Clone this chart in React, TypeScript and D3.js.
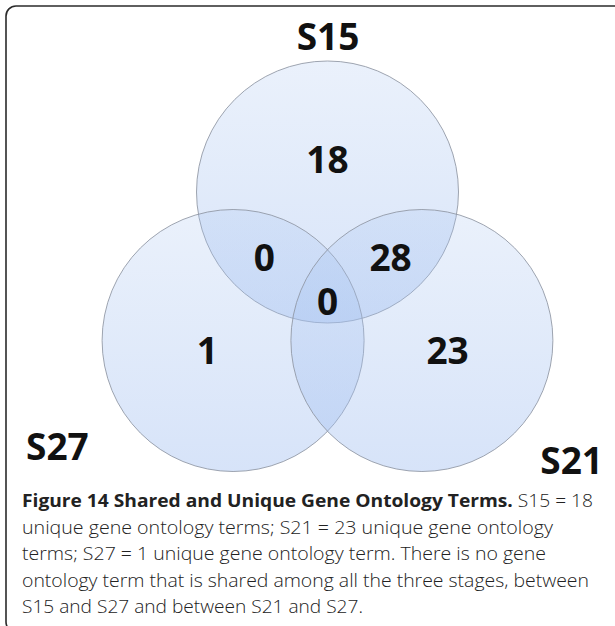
import { useEffect, useRef } from "react";
import * as d3 from "d3";

// the three stages (one circle each) and their angle round the diagram's centre
const stages = ["S15", "S27", "S21"];
const stageAngles = [-90, 150, 30];

// counts written inside the diagram, by the stages each region belongs to
const regionSets = [["S15"], ["S27"], ["S21"], ["S15", "S27"], ["S15", "S21"], ["S15", "S21", "S27"]];
const regionCounts = [18, 1, 23, 0, 28, 0];

const captionBold = "Figure 14 Shared and Unique Gene Ontology Terms.";
const captionLines = [
  " S15 = 18",
  "unique gene ontology terms; S21 = 23 unique gene ontology",
  "terms; S27 = 1 unique gene ontology term. There is no gene",
  "ontology term that is shared among all the three stages, between",
  "S15 and S27 and between S21 and S27.",
];

export default function App() {
  const ref = useRef<SVGSVGElement>(null);

  useEffect(() => {
    const svg = d3.select(ref.current);
    svg.selectAll("*").remove();

    const R = 131;
    const x = d3.scaleLinear().domain([-1, 1]).range([327.5 - 109, 327.5 + 109]);
    const y = d3.scaleLinear().domain([-1, 1]).range([291 - 99, 291 + 99]);

    const circles = stages.map((s, i) => {
      const a = (stageAngles[i] * Math.PI) / 180;
      return { name: s, cx: x(Math.cos(a)), cy: y(Math.sin(a)) };
    });
    const byName = new Map(circles.map((c) => [c.name, c]));

    // frame
    svg
      .append("rect")
      .attr("x", 6)
      .attr("y", 6)
      .attr("width", 700)
      .attr("height", 626)
      .attr("rx", 10)
      .attr("fill", "none")
      .attr("stroke", "#2b2b2b")
      .attr("stroke-width", 1.6);

    const grad = svg
      .append("defs")
      .append("linearGradient")
      .attr("id", "circ")
      .attr("x1", 0)
      .attr("y1", 0)
      .attr("x2", 0)
      .attr("y2", 1);
    grad.append("stop").attr("offset", "0%").attr("stop-color", "#a8c4f0").attr("stop-opacity", 0.24);
    grad.append("stop").attr("offset", "100%").attr("stop-color", "#9fbdf0").attr("stop-opacity", 0.42);

    svg
      .append("g")
      .selectAll("circle")
      .data(circles)
      .join("circle")
      .attr("cx", (d) => d.cx)
      .attr("cy", (d) => d.cy)
      .attr("r", R)
      .attr("fill", "url(#circ)")
      .attr("stroke", "#8e95a2")
      .attr("stroke-opacity", 0.85)
      .attr("stroke-width", 1);

    // where each count sits: pushed away from the circles it is not in
    const labelPos = (sets: string[]) => {
      const inside = sets.map((s) => byName.get(s)!);
      const outside = circles.filter((c) => !sets.includes(c.name));
      const mx = d3.mean(inside, (c) => c.cx)!;
      const my = d3.mean(inside, (c) => c.cy)!;
      if (!outside.length) return [mx, my + 11];
      const ox = d3.mean(outside, (c) => c.cx)!;
      const oy = d3.mean(outside, (c) => c.cy)!;
      const len = Math.hypot(mx - ox, my - oy);
      const push = sets.length === 1 ? 29 : 18;
      return [mx + ((mx - ox) / len) * push, my + ((my - oy) / len) * push - (sets.length === 1 ? 3 : 0)];
    };

    svg
      .append("g")
      .selectAll("text")
      .data(regionCounts)
      .join("text")
      .attr("x", (d, i) => labelPos(regionSets[i])[0])
      .attr("y", (d, i) => labelPos(regionSets[i])[1])
      .attr("dy", "0.36em")
      .attr("text-anchor", "middle")
      .attr("font-family", "'Open Sans', sans-serif")
      .attr("font-weight", 700)
      .attr("font-size", 37)
      .attr("fill", "#111")
      .text((d) => d);

    // stage names
    const nameStyle = (sel: any) =>
      sel
        .attr("font-family", "'Open Sans', sans-serif")
        .attr("font-weight", 700)
        .attr("font-size", 37)
        .attr("fill", "#111");
    svg.append("text").attr("x", 328).attr("y", 50).attr("text-anchor", "middle").text("S15").call(nameStyle);
    svg.append("text").attr("x", 26).attr("y", 460).attr("text-anchor", "start").text("S27").call(nameStyle);
    svg.append("text").attr("x", 603).attr("y", 474).attr("text-anchor", "end").text("S21").call(nameStyle);

    // caption
    const cap = svg
      .append("g")
      .attr("font-family", "'Open Sans', sans-serif")
      .attr("font-size", 18)
      .attr("fill", "#222");
    const lineEnds = [593, 553, 546, 589, 363];
    const first = cap
      .append("text")
      .attr("x", 22)
      .attr("y", 507)
      .attr("textLength", lineEnds[0] - 22)
      .attr("lengthAdjust", "spacingAndGlyphs");
    first.append("tspan").attr("font-weight", 700).text(captionBold);
    first.append("tspan").attr("font-weight", 300).text(captionLines[0]);
    captionLines.slice(1).forEach((l, i) => {
      cap
        .append("text")
        .attr("x", 22)
        .attr("y", 507 + (i + 1) * 26.5)
        .attr("font-weight", 300)
        .attr("textLength", lineEnds[i + 1] - 22)
        .attr("lengthAdjust", "spacingAndGlyphs")
        .text(l);
    });
  }, []);

  return (
    <svg ref={ref} width={615} height={626} style={{ position: "absolute", left: 0, top: 0, background: "#fff" }} />
  );
}
